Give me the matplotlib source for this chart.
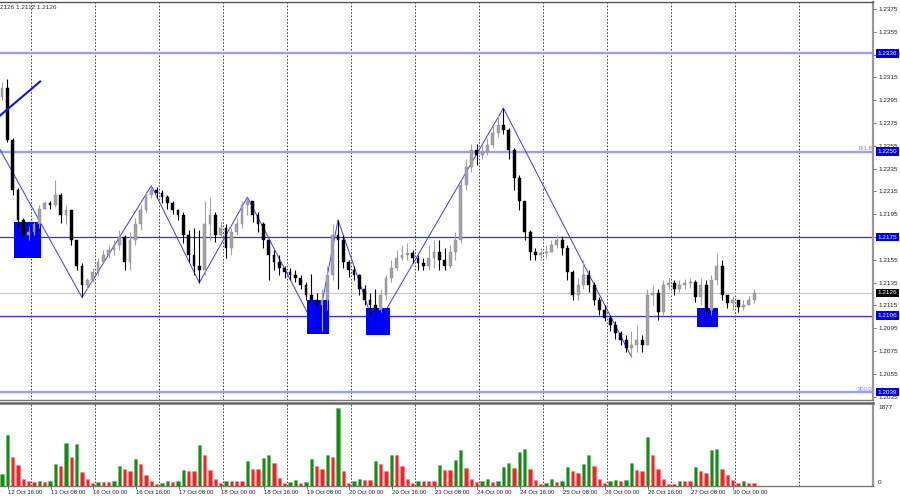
import matplotlib
matplotlib.use('Agg')
import matplotlib.pyplot as plt
import matplotlib.transforms as mtrans
import numpy as np

plt.rcParams['font.family'] = ['Liberation Sans', 'DejaVu Sans']

# ---------------- data (2-hour candles, EURUSD-like) ----------------
first_open = 1.2298
closes = [
    1.2306, 1.2260, 1.2216, 1.2190, 1.2177, 1.2179, 1.2186, 1.2200, 1.2205, 1.2203,
    1.2212, 1.2194, 1.2199, 1.2172, 1.2150, 1.2133, 1.2137, 1.2144, 1.2153, 1.2159,
    1.2164, 1.2168, 1.2175, 1.2153, 1.2172, 1.2186, 1.2199, 1.2212, 1.2216, 1.2214,
    1.2210, 1.2205, 1.2199, 1.2194, 1.2177, 1.2159, 1.2150, 1.2146, 1.2186, 1.2194,
    1.2177, 1.2183, 1.2165, 1.2179, 1.2186, 1.2203, 1.2207, 1.2194, 1.2186, 1.2172,
    1.2159, 1.2153, 1.2148, 1.2144, 1.2142, 1.2139, 1.2133, 1.2124, 1.2120, 1.2115,
    1.2120, 1.2142, 1.2177, 1.2172, 1.2153, 1.2146, 1.2142, 1.2129, 1.2120, 1.2115,
    1.2111, 1.2124, 1.2139, 1.2148, 1.2157, 1.2159, 1.2161, 1.2157, 1.2152, 1.2150,
    1.2157, 1.2162, 1.2155, 1.2150, 1.2162, 1.2172, 1.2221, 1.2236, 1.2251, 1.2247,
    1.2250, 1.2256, 1.2266, 1.2273, 1.2269, 1.2251, 1.2227, 1.2207, 1.2179, 1.2162,
    1.2159, 1.2161, 1.2162, 1.2168, 1.2172, 1.2165, 1.2144, 1.2124, 1.2133, 1.2142,
    1.2133, 1.2120, 1.2111, 1.2104, 1.2098, 1.2091, 1.2085, 1.2078, 1.2080, 1.2085,
    1.2080, 1.2124, 1.2126, 1.2109, 1.2133, 1.2135, 1.2129, 1.2133, 1.2135, 1.2136,
    1.2122, 1.2133, 1.2111, 1.2137, 1.2150, 1.2124, 1.2117, 1.2120, 1.2114, 1.2115,
    1.2120, 1.2126]
highs = [
    1.2311, 1.2314, 1.2262, 1.2218, 1.2192, 1.2185, 1.2188, 1.2203, 1.2207, 1.2207,
    1.2225, 1.2214, 1.2203, 1.2199, 1.2172, 1.2152, 1.2139, 1.2148, 1.2157, 1.2164,
    1.2168, 1.2172, 1.2181, 1.2177, 1.2179, 1.2192, 1.2203, 1.2215, 1.2220, 1.2219,
    1.2216, 1.2212, 1.2207, 1.2200, 1.2197, 1.2181, 1.2183, 1.2181, 1.2207, 1.2210,
    1.2197, 1.2188, 1.2186, 1.2183, 1.2192, 1.2207, 1.2210, 1.2207, 1.2197, 1.2188,
    1.2172, 1.2164, 1.2159, 1.2150, 1.2148, 1.2146, 1.2142, 1.2136, 1.2143, 1.2126,
    1.2129, 1.2150, 1.2186, 1.2190, 1.2177, 1.2155, 1.2150, 1.2143, 1.2133, 1.2126,
    1.2129, 1.2129, 1.2142, 1.2155, 1.2164, 1.2168, 1.2170, 1.2164, 1.2159, 1.2157,
    1.2168, 1.2172, 1.2172, 1.2165, 1.2168, 1.2179, 1.2225, 1.2243, 1.2257, 1.2257,
    1.2256, 1.2262, 1.2273, 1.2282, 1.2288, 1.2271, 1.2253, 1.2229, 1.2207, 1.2181,
    1.2165, 1.2165, 1.2168, 1.2172, 1.2177, 1.2176, 1.2168, 1.2146, 1.2139, 1.2155,
    1.2146, 1.2136, 1.2122, 1.2115, 1.2107, 1.2101, 1.2093, 1.2089, 1.2093, 1.2098,
    1.2089, 1.2129, 1.2133, 1.2129, 1.2137, 1.2139, 1.2137, 1.2137, 1.2138, 1.2139,
    1.2137, 1.2139, 1.2137, 1.2142, 1.2161, 1.2155, 1.2124, 1.2123, 1.2120, 1.2120,
    1.2123, 1.2129]
lows = [
    1.2295, 1.2258, 1.2212, 1.2183, 1.2171, 1.2172, 1.2177, 1.2183, 1.2200, 1.2200,
    1.2201, 1.2187, 1.2186, 1.2168, 1.2146, 1.2122, 1.2129, 1.2136, 1.2142, 1.2153,
    1.2157, 1.2159, 1.2164, 1.2146, 1.2146, 1.2168, 1.2181, 1.2197, 1.2209, 1.2209,
    1.2205, 1.2200, 1.2195, 1.2190, 1.2170, 1.2153, 1.2142, 1.2135, 1.2142, 1.2172,
    1.2171, 1.2175, 1.2157, 1.2159, 1.2177, 1.2183, 1.2194, 1.2188, 1.2179, 1.2165,
    1.2137, 1.2146, 1.2142, 1.2139, 1.2137, 1.2136, 1.2129, 1.2120, 1.2115, 1.2093,
    1.2093, 1.2111, 1.2137, 1.2129, 1.2148, 1.2140, 1.2137, 1.2124, 1.2115, 1.2107,
    1.2095, 1.2109, 1.2120, 1.2136, 1.2146, 1.2155, 1.2155, 1.2152, 1.2146, 1.2146,
    1.2146, 1.2148, 1.2146, 1.2146, 1.2148, 1.2155, 1.2170, 1.2216, 1.2232, 1.2238,
    1.2243, 1.2247, 1.2253, 1.2263, 1.2265, 1.2243, 1.2216, 1.2199, 1.2172, 1.2155,
    1.2155, 1.2155, 1.2157, 1.2162, 1.2165, 1.2159, 1.2137, 1.2120, 1.2120, 1.2129,
    1.2127, 1.2115, 1.2107, 1.2101, 1.2093, 1.2086, 1.2080, 1.2074, 1.2070, 1.2074,
    1.2074, 1.2080, 1.2115, 1.2102, 1.2107, 1.2129, 1.2124, 1.2127, 1.2129, 1.2130,
    1.2118, 1.2115, 1.2107, 1.2107, 1.2133, 1.2120, 1.2113, 1.2111, 1.2109, 1.2111,
    1.2115, 1.2117]
volumes = [
    290, 1230, 700, 500, 170, 120, 100, 120, 100, 120,
    530, 480, 1030, 700, 1010, 340, 170, 80, 100, 100,
    100, 120, 480, 410, 360, 650, 530, 260, 120, 50,
    70, 120, 100, 120, 380, 360, 360, 980, 740, 380,
    170, 70, 120, 120, 120, 120, 600, 410, 410, 670,
    740, 550, 190, 70, 100, 140, 70, 100, 650, 480,
    410, 740, 700, 1877, 360, 70, 120, 170, 140, 140,
    600, 530, 360, 740, 740, 480, 170, 70, 120, 120,
    120, 120, 500, 380, 380, 620, 860, 430, 170, 100,
    120, 170, 100, 120, 460, 550, 430, 820, 890, 410,
    140, 50, 70, 170, 100, 120, 460, 360, 310, 530,
    740, 480, 170, 70, 120, 140, 120, 140, 550, 380,
    360, 1180, 740, 410, 170, 50, 50, 120, 120, 120,
    460, 360, 310, 860, 890, 410, 260, 140, 70, 120,
    70, 70]

time_labels = ["12 Oct 16:00", "13 Oct 08:00", "16 Oct 00:00", "16 Oct 16:00",
               "17 Oct 08:00", "18 Oct 00:00", "18 Oct 16:00", "19 Oct 08:00",
               "20 Oct 00:00", "20 Oct 16:00", "23 Oct 08:00", "24 Oct 00:00",
               "24 Oct 16:00", "25 Oct 08:00", "26 Oct 00:00", "26 Oct 16:00",
               "27 Oct 08:00", "30 Oct 00:00"]
label_pos = [1.125 + 8 * k for k in range(len(time_labels))]
day_lines = [5.38 + 12 * k for k in range(13)]

light_levels = [1.2336, 1.2250, 1.2039]
strong_levels = [1.2175, 1.2106]
current_price = 1.2126
fib_labels = [(1.2250, "161.8"), (1.2039, "200.0")]

zz_idx = [-1, 15, 28, 37, 46, 59, 63, 70, 94, 118]
zz_price = [1.2257, 1.2122, 1.2220, 1.2135, 1.2210, 1.2093, 1.2190, 1.2095, 1.2288, 1.2070]
trend_idx = [-0.5, 7.3]
trend_price = [1.2281, 1.2312]

# (start index, end index, low price, high price)
zones = [(2.25, 7.26, 1.2157, 1.2188),
         (57.2, 61.3, 1.2090, 1.2120),
         (68.25, 72.75, 1.2089, 1.2113),
         (130.25, 134.2, 1.2096, 1.2113)]

price_ticks = [round(1.2035 + 0.002 * k, 4) for k in range(18)]

# ---------------- figure ----------------
fig = plt.figure(figsize=(9, 5), dpi=100)
fig.patch.set_facecolor('white')
ax = fig.add_axes([0.0, 0.2, 0.97, 0.796])
axv = fig.add_axes([0.0, 0.028, 0.97, 0.166], sharex=ax)

n = len(closes)
idx = np.arange(n)
opens = [first_open] + closes[:-1]
o = np.array(opens)
c = np.array(closes)
h = np.maximum(np.array(highs), np.maximum(o, c))
l = np.minimum(np.array(lows), np.minimum(o, c))
bull = c >= o
cols = np.where(bull, '#a3a3a3', '#000000')

ax.vlines(idx, l, h, colors=cols, lw=0.8, zorder=5)
body_bottom = np.minimum(o, c)
body_h = np.maximum(np.abs(c - o), 0.00004)
ax.bar(idx, body_h, bottom=body_bottom, width=0.55, color=cols,
       edgecolor=np.where(bull, '#8a8a8a', '#000000'), lw=0.3, zorder=5)

for g in day_lines:
    ax.axvline(g, color='#222222', ls=(0, (2, 2)), lw=0.6, zorder=1)
    axv.axvline(g, color='#222222', ls=(0, (2, 2)), lw=0.6, zorder=1)

for p in light_levels:
    ax.axhline(p, color='#9d9dff', lw=1.7, zorder=2)
for p in strong_levels:
    ax.axhline(p, color='#2c2cff', lw=0.9, zorder=2)
ax.axhline(current_price, color='#c8c8c8', lw=0.8, zorder=2)

ax.plot(zz_idx, zz_price, color='#3a3aff', lw=0.7, zorder=3)
ax.plot(trend_idx, trend_price, color='#1010ff', lw=1.5, zorder=6,
        solid_capstyle='butt')

for x0, x1, p0, p1 in zones:
    ax.fill_between([x0, x1], p0, p1, color='#0000ff', lw=0, zorder=4)

ax.set_xlim(-0.375, 163.3)
ax.set_ylim(1.20321, 1.23811)

# right price axis
ax.yaxis.tick_right()
ax.set_yticks(price_ticks)
ax.set_yticklabels([f'{p:.4f}' for p in price_ticks])
ax.tick_params(axis='y', labelsize=4.6, length=2.5, width=0.6, pad=1.5,
               color='#555555', labelcolor='#222222')
ax.tick_params(axis='x', bottom=False, labelbottom=False)

trans = mtrans.blended_transform_factory(ax.transAxes, ax.transData)
for p in light_levels + strong_levels:
    ax.text(1.0055, p, f'{p:.4f}', transform=trans, ha='left', va='center',
            fontsize=4.6, color='white', clip_on=False, zorder=10,
            bbox=dict(boxstyle='square,pad=0.28', fc='#0000ee', ec='none'))
ax.text(1.0055, current_price, f'{current_price:.4f}', transform=trans,
        ha='left', va='center', fontsize=4.6, color='white', clip_on=False,
        zorder=10, bbox=dict(boxstyle='square,pad=0.28', fc='#000000', ec='none'))
for p, t in fib_labels:
    ax.text(0.999, p + 0.00025, t, transform=trans, ha='right', va='center',
            fontsize=4.2, color='#7d7dff', zorder=9)

ax.text(0.0, 0.987, '2126 1.2112 1.2126', transform=ax.transAxes, ha='left',
        va='center', fontsize=4.6, color='#333333', zorder=10)

ax.spines['left'].set_visible(False)
ax.spines['top'].set_color('#555555'); ax.spines['top'].set_linewidth(1.0)
ax.spines['bottom'].set_color('#777777'); ax.spines['bottom'].set_linewidth(1.0)
ax.spines['right'].set_color('#999999'); ax.spines['right'].set_linewidth(1.6)

# ---------------- volume panel ----------------
vol = np.array(volumes)
prev = np.concatenate([[0], vol[:-1]])
up = vol > prev
vcols = np.where(up, '#168a16', '#ff1e1e')
vedge = np.where(up, '#5cc45c', '#ff8080')
axv.bar(idx, vol, width=0.62, color=vcols, edgecolor=vedge, lw=0.4, zorder=3)
axv.set_ylim(0, 1997)
axv.set_yticks([])
vtrans = mtrans.blended_transform_factory(axv.transAxes, axv.transData)
axv.text(1.006, 1877, '1877', transform=vtrans, ha='left', va='center',
         fontsize=4.6, color='#222222', clip_on=False)
axv.text(1.006, 96, '0', transform=vtrans, ha='left', va='center',
         fontsize=4.6, color='#222222', clip_on=False)

axv.set_xticks(label_pos)
axv.set_xticklabels(time_labels, ha='left', fontsize=4.3, color='#222222')
axv.tick_params(axis='x', length=2.0, width=0.6, pad=1.2, color='#555555')
axv.spines['left'].set_visible(False)
axv.spines['top'].set_color('#666666'); axv.spines['top'].set_linewidth(1.8)
axv.spines['bottom'].set_color('#777777'); axv.spines['bottom'].set_linewidth(1.0)
axv.spines['right'].set_color('#999999'); axv.spines['right'].set_linewidth(1.6)

fig.savefig('out.png', dpi=100, facecolor='white')
